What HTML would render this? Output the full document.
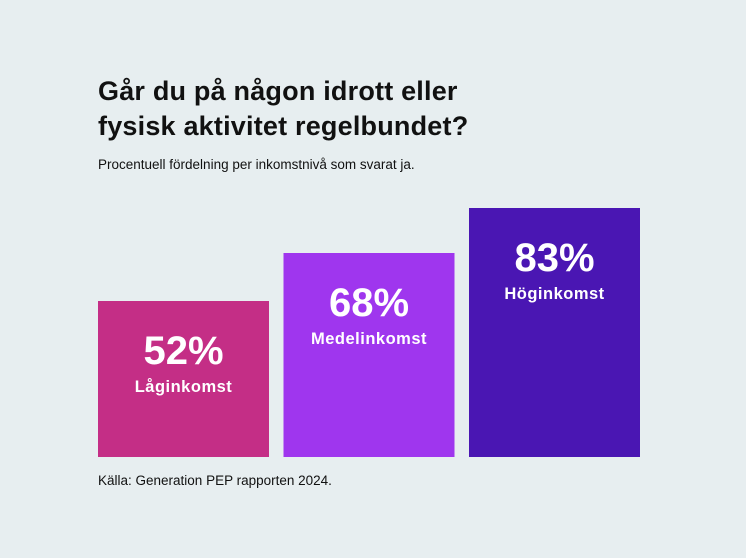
<!DOCTYPE html>
<html><head><meta charset="utf-8"><style>
body{margin:0;background:#e7eef0;}
#c{position:relative;width:746px;height:558px;background:#e7eef0;font-family:"Liberation Sans",sans-serif;color:#111;overflow:hidden}
.t{position:absolute;left:98px;font-weight:bold;font-size:27px;line-height:35px;top:74px;letter-spacing:0.2px}
.s{position:absolute;left:98px;top:157px;font-size:13.5px}
.src{position:absolute;left:98px;top:473px;font-size:13.5px}
</style></head><body>
<div id="c">
<div class="t">Går du på någon idrott eller<br>fysisk aktivitet regelbundet?</div>
<div class="s">Procentuell fördelning per inkomstnivå som svarat ja.</div>
<svg id="svg" width="746" height="558" style="position:absolute;left:0;top:0"></svg>
<div class="src">Källa: Generation PEP rapporten 2024.</div>
</div>
<script>
const categories=["Låginkomst","Medelinkomst","Höginkomst"];
const values=[52,68,83];
const colors=["#c42e86","#9f36ee","#4a16b3"];
const baseY=457, pxPerPct=3.0, x0=98, barW=171, gap=14.5;
const yScale=v=>baseY-v*pxPerPct;
const xScale=i=>x0+i*(barW+gap);
const svg=document.getElementById('svg');
const NS="http://www.w3.org/2000/svg";
values.forEach((v,i)=>{
  const top=yScale(v);
  const r=document.createElementNS(NS,'rect');
  
  
  r.setAttribute('x',xScale(i));r.setAttribute('y',top);
  r.setAttribute('width',barW);r.setAttribute('height',baseY-top);
  r.setAttribute('fill',colors[i]);
  svg.appendChild(r);
  const cx=xScale(i)+barW/2;
  const t=document.createElementNS(NS,'text');
  
  
  t.setAttribute('x',cx);t.setAttribute('y',top+63);
  t.setAttribute('text-anchor','middle');t.setAttribute('fill','#fff');
  t.setAttribute('font-size','40');t.setAttribute('font-weight','bold');
  t.setAttribute('font-family','Liberation Sans, sans-serif');
  t.textContent=v+'%';
  svg.appendChild(t);
  const l=document.createElementNS(NS,'text');
  
  
  l.setAttribute('x',cx);l.setAttribute('y',top+91);
  l.setAttribute('text-anchor','middle');l.setAttribute('fill','#fff');
  l.setAttribute('font-size','16.5');l.setAttribute('font-weight','bold');
  l.setAttribute('font-family','Liberation Sans, sans-serif');
  l.setAttribute('letter-spacing','0.5');
  l.textContent=categories[i];
  svg.appendChild(l);
});
</script>
</body></html>
